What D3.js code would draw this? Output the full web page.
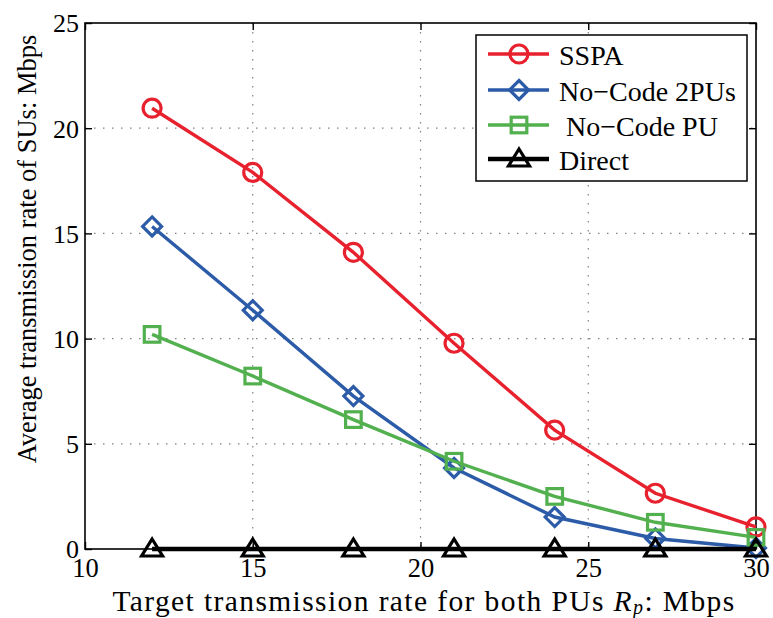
<!DOCTYPE html>
<html><head><meta charset="utf-8">
<script src="https://cdn.jsdelivr.net/npm/d3@7"></script>
<style>body{margin:0;background:#fff;} svg text{font-family:"Liberation Serif","DejaVu Serif","Times New Roman",Times,serif !important;}</style>
</head><body>
<svg id="c" width="773" height="618"></svg>
<script>
const xValues = [12, 15, 18, 21, 24, 27, 30];
const sspa = [20.95, 17.9, 14.1, 9.78, 5.65, 2.65, 1.05];
const noCode2PUs = [15.33, 11.35, 7.27, 3.85, 1.52, 0.5, 0.05];
const noCodePU = [10.2, 8.22, 6.15, 4.17, 2.5, 1.27, 0.55];
const direct = [0, 0, 0, 0, 0, 0, 0];
const xTicks = [10, 15, 20, 25, 30];
const yTicks = [0, 5, 10, 15, 20, 25];
const seriesNames = ["SSPA", "No\u2212Code 2PUs", "\u00a0No\u2212Code PU", "Direct"];
const seriesColors = ["#e8212e", "#2c5ba8", "#52b04f", "#000000"];
const seriesMarkers = ["circle", "diamond", "square", "triangle"];

const series = [sspa, noCode2PUs, noCodePU, direct].map((v, i) => ({
  name: seriesNames[i], color: seriesColors[i], marker: seriesMarkers[i],
  points: v.map((y, j) => ({x: xValues[j], y}))
}));

const svg = d3.select("#c");
const L = 85, R = 756, T = 23, B = 549;
const x = d3.scaleLinear().domain([10, 30]).range([L, R]);
const y = d3.scaleLinear().domain([0, 25]).range([B, T]);

// grid
const g = svg.append("g");
g.selectAll(".gx").data(xTicks.slice(1, -1)).join("line")
  .attr("x1", d => x(d)).attr("x2", d => x(d)).attr("y1", T).attr("y2", B)
  .attr("stroke", "#808080").attr("stroke-width", 1.2).attr("stroke-dasharray", "1.5,7.5");
g.selectAll(".gy").data(yTicks.slice(1, -1)).join("line")
  .attr("y1", d => y(d)).attr("y2", d => y(d)).attr("x1", L).attr("x2", R)
  .attr("stroke", "#808080").attr("stroke-width", 1.2).attr("stroke-dasharray", "1.5,7.5");

// axes
const xAxis = svg.append("g").attr("transform", `translate(0,${B})`)
  .call(d3.axisBottom(x).tickValues(xTicks).tickSize(-7).tickPadding(11));
const xAxisTop = svg.append("g").attr("transform", `translate(0,${T})`)
  .call(d3.axisTop(x).tickValues(xTicks).tickSize(-7).tickFormat(""));
const yAxis = svg.append("g").attr("transform", `translate(${L},0)`)
  .call(d3.axisLeft(y).tickValues(yTicks).tickSize(-7).tickPadding(6));
const yAxisR = svg.append("g").attr("transform", `translate(${R},0)`)
  .call(d3.axisRight(y).tickValues(yTicks).tickSize(-7).tickFormat(""));
[xAxis, xAxisTop, yAxis, yAxisR].forEach(a => {
  a.attr("font-family", null).attr("font-size", null);
  a.select(".domain").remove();
  a.selectAll("line").attr("stroke", "#000").attr("stroke-width", 1.4);
});
xAxis.selectAll("text").style("font-size", "26.5px").attr("fill", "#000").attr("dy", "0.66em");
yAxis.selectAll("text").style("font-size", "26px").attr("fill", "#000").attr("dy", "0.34em");
svg.append("rect").attr("x", L).attr("y", T).attr("width", R - L).attr("height", B - T)
  .attr("fill", "none").attr("stroke", "#000").attr("stroke-width", 1.6);

// lines & markers
const line = d3.line().x(d => x(d.x)).y(d => y(d.y));
function drawMarker(sel, type, color, cx, cy) {
  const common = s => s.attr("fill", "none").attr("stroke", color).attr("stroke-width", 3.2);
  if (type === "circle") common(sel.append("circle").attr("cx", cx).attr("cy", cy).attr("r", 9));
  else if (type === "diamond") common(sel.append("path").attr("d", `M${cx},${cy-9.5}L${cx+9.5},${cy}L${cx},${cy+9.5}L${cx-9.5},${cy}Z`));
  else if (type === "square") common(sel.append("rect").attr("x", cx-7.8).attr("y", cy-7.8).attr("width", 15.6).attr("height", 15.6));
  else if (type === "triangle") common(sel.append("path").attr("d", `M${cx},${cy-10}L${cx+10.5},${cy+7}L${cx-10.5},${cy+7}Z`).attr("stroke-width", 4));
}
series.forEach(s => {
  const gs = svg.append("g");
  gs.append("path").datum(s.points).attr("d", line).attr("fill", "none")
    .attr("stroke", s.color).attr("stroke-width", s.marker === "triangle" ? 4.5 : 3.4);
  s.points.forEach(p => drawMarker(gs, s.marker, s.color, x(p.x), y(p.y)));
});

// legend
const lg = svg.append("g");
lg.append("rect").attr("x", 476).attr("y", 35).attr("width", 271).attr("height", 146)
  .attr("fill", "#fff").attr("stroke", "#000").attr("stroke-width", 1.5);
const ly = [54, 90, 125, 159];
series.forEach((s, i) => {
  lg.append("line").attr("x1", 488).attr("x2", 549).attr("y1", ly[i]).attr("y2", ly[i])
    .attr("stroke", s.color).attr("stroke-width", s.marker === "triangle" ? 4.5 : 3.4);
  drawMarker(lg, s.marker, s.color, 519, ly[i]);
  lg.append("text").attr("x", 559).attr("y", ly[i] + 11).style("font-size", "28px").text(s.name);
});

// axis titles
const xt = svg.append("text").attr("x", 424).attr("y", 611).attr("text-anchor", "middle")
  .style("font-size", "29.5px").style("letter-spacing", "1.4px");
xt.append("tspan").text("Target transmission rate for both PUs ");
xt.append("tspan").attr("font-style", "italic").text("R");
xt.append("tspan").attr("font-style", "italic").style("font-size", "20px").attr("dy", 3).text("p");
xt.append("tspan").attr("dy", -3).text(": Mbps");
svg.append("text").attr("transform", `translate(36,249) rotate(-90)`)
  .attr("text-anchor", "middle").style("font-size", "26.5px")
  .text("Average transmission rate of SUs: Mbps");
</script>
</body></html>
